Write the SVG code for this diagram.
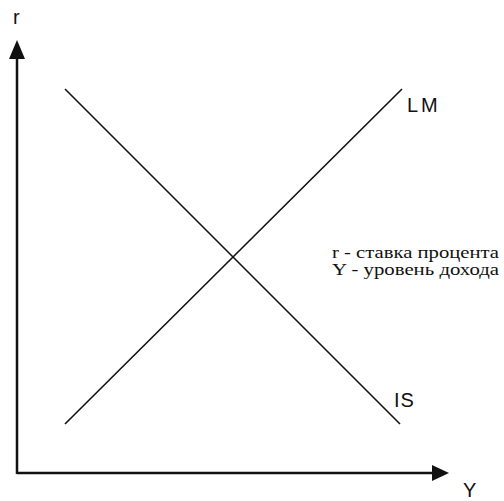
<svg xmlns="http://www.w3.org/2000/svg" width="504" height="501" viewBox="0 0 504 501">
<style>
.axis{stroke:#111;stroke-width:2.5;fill:none}
.curve{stroke:#111;stroke-width:1.6;fill:none}
.lbl{font-family:"Liberation Sans",Arial,sans-serif;font-size:20px;fill:#111}
.leg{font-family:"Liberation Serif","Times New Roman",serif;font-size:17px;fill:#111}
</style>
<rect width="504" height="501" fill="#fff"/>
<g id="connectors">
<path class="axis" d="M17,474 L17,58"/>
<polygon points="17,40 9,59 25,59" fill="#111"/>
<path class="axis" d="M17,473 L433,473"/>
<polygon points="449,473 432,465 432,481" fill="#111"/>
<line class="curve" x1="65" y1="89" x2="400" y2="424"/>
<line class="curve" x1="65" y1="424" x2="402" y2="89"/>
</g>
<g id="axis-r"><text class="lbl" x="13" y="24" font-size="14">r</text></g>
<g id="axis-Y"><text class="lbl" x="463" y="497" font-size="15">Y</text></g>
<g id="LM"><text class="lbl" x="407" y="112" letter-spacing="3">LM</text></g>
<g id="IS"><text class="lbl" x="394" y="407" letter-spacing="1">IS</text></g>
<g id="legend">
<text class="leg" x="332" y="258" textLength="167" lengthAdjust="spacingAndGlyphs">r - ставка процента</text>
<text class="leg" x="332" y="275" textLength="167" lengthAdjust="spacingAndGlyphs">Y - уровень дохода</text>
</g>
</svg>
